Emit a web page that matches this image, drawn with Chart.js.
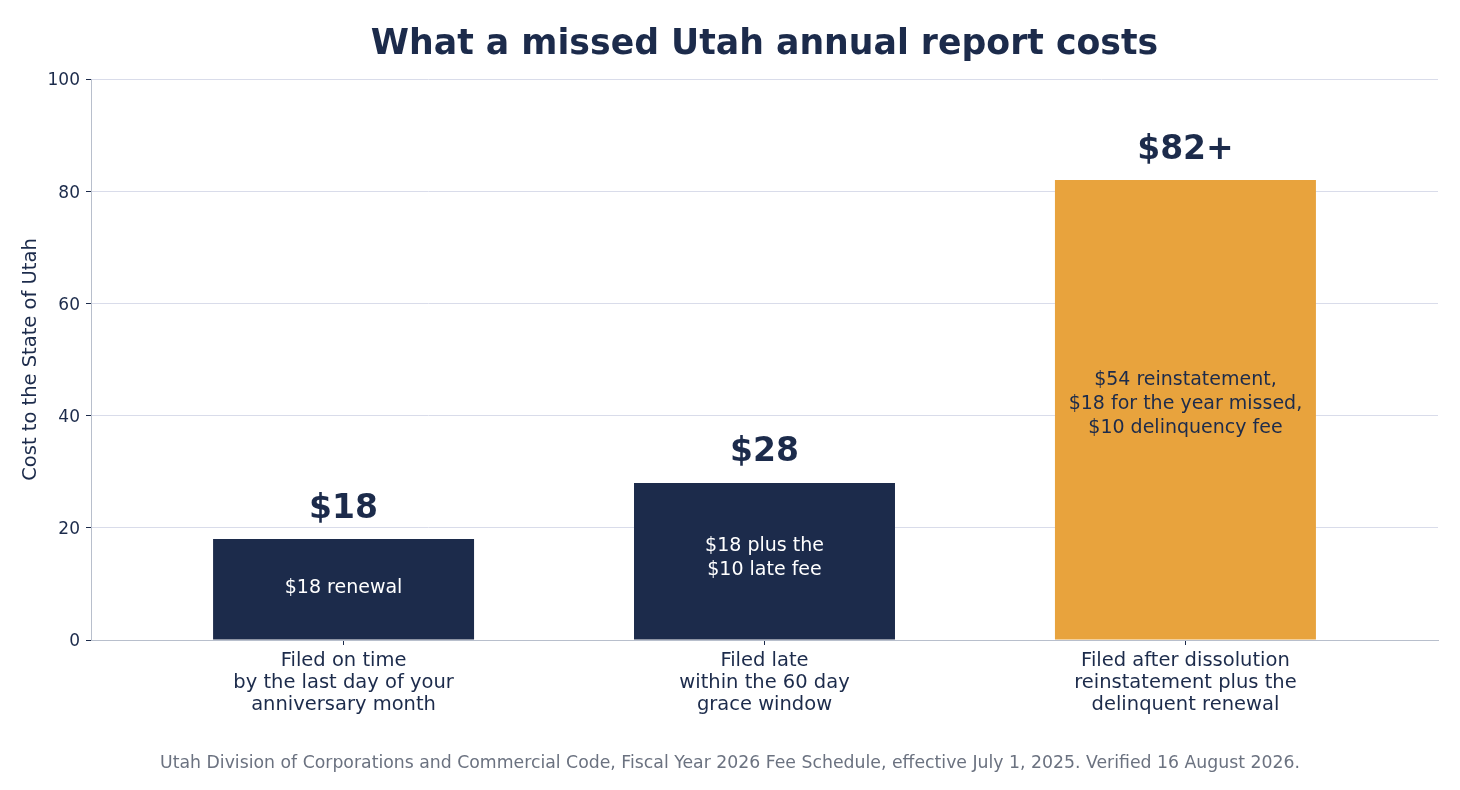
<!DOCTYPE html>
<html>
<head>
<meta charset="utf-8">
<script src="https://cdn.jsdelivr.net/npm/chart.js@4/dist/chart.umd.min.js"></script>
<style>
    html, body { margin: 0; padding: 0; background: #ffffff; }
    #wrap { width: 1460px; height: 790px; }
</style>
</head>
<body>
<div id="wrap"><canvas id="costChart" width="1460" height="790"></canvas></div>
<script>
// Chart data
const categories = [
    ['Filed on time', 'by the last day of your', 'anniversary month'],
    ['Filed late', 'within the 60 day', 'grace window'],
    ['Filed after dissolution', 'reinstatement plus the', 'delinquent renewal']
];
const costs = [18, 28, 82];
const valueLabels = ['$18', '$28', '$82+'];
const innerLabels = [
    ['$18 renewal'],
    ['$18 plus the', '$10 late fee'],
    ['$54 reinstatement,', '$18 for the year missed,', '$10 delinquency fee']
];
const yTicks = [0, 20, 40, 60, 80, 100];

const NAVY = '#1c2b4b';
const ORANGE = '#e8a33d';
const FONT = "'DejaVu Sans', sans-serif";

const barColors = costs.map((v, i) => i === 2 ? ORANGE : NAVY);
const innerColors = costs.map((v, i) => i === 2 ? NAVY : '#ffffff');

// draws title, value labels, labels inside bars and the source line
const annotate = {
    id: 'annotate',
    afterDatasetsDraw(chart) {
        const ctx = chart.ctx;
        const area = chart.chartArea;
        ctx.save();
        ctx.textAlign = 'center';
        ctx.textBaseline = 'middle';

        ctx.fillStyle = NAVY;
        ctx.font = "bold 34.7px " + FONT;
        ctx.fillText('What a missed Utah annual report costs', (area.left + area.right) / 2, 45);

        const bars = chart.getDatasetMeta(0).data;
        bars.forEach((bar, i) => {
            ctx.fillStyle = NAVY;
            ctx.font = "bold 33px " + FONT;
            ctx.fillText(valueLabels[i], bar.x, bar.y - 30);

            // text block sits a little above the middle of the bar
            const lines = innerLabels[i];
            const lh = 24;
            const mid = (bar.y + bar.base) / 2 - 1 - (lines.length - 1) * 2.5;
            ctx.fillStyle = innerColors[i];
            ctx.font = "19px " + FONT;
            lines.forEach((line, k) => {
                ctx.fillText(line, bar.x, mid + (k - (lines.length - 1) / 2) * lh);
            });
        });

        ctx.fillStyle = '#6b7280';
        ctx.font = "17.3px " + FONT;
        ctx.fillText('Utah Division of Corporations and Commercial Code, Fiscal Year 2026 Fee Schedule, effective July 1, 2025. Verified 16 August 2026.', 730, 764);
        ctx.restore();
    }
};

new Chart(document.getElementById('costChart'), {
    type: 'bar',
    data: {
        datasets: [{
            data: costs.map((v, i) => ({ x: i, y: v })),
            backgroundColor: barColors,
            borderWidth: 0,
            barPercentage: 0.62,
            categoryPercentage: 1
        }]
    },
    options: {
        responsive: false,
        animation: false,
        devicePixelRatio: 1,
        layout: { padding: { top: 79, right: 22, bottom: 0, left: 0 } },
        plugins: {
            legend: { display: false },
            tooltip: { enabled: false }
        },
        scales: {
            x: {
                type: 'linear',
                min: -0.6,
                max: 2.6,
                offset: false,
                afterBuildTicks: axis => { axis.ticks = categories.map((c, i) => ({ value: i })); },
                afterFit: scale => { scale.height = 150; },
                grid: { offset: false, drawOnChartArea: false, tickLength: 5, tickColor: NAVY },
                border: { color: '#b8bfcc', width: 1 },
                ticks: {
                    color: NAVY,
                    padding: 5,
                    maxRotation: 0,
                    autoSkip: false,
                    font: { family: FONT, size: 19.5, lineHeight: 1.13 },
                    callback: v => categories[v]
                }
            },
            y: {
                min: 0,
                max: 100,
                afterBuildTicks: axis => { axis.ticks = yTicks.map(v => ({ value: v })); },
                afterFit: scale => { scale.width = 91; },
                grid: { color: '#d9dcea', tickLength: 5, tickColor: NAVY },
                border: { color: '#b8bfcc', width: 1 },
                ticks: {
                    color: NAVY,
                    padding: 6,
                    labelOffset: 2,
                    font: { family: FONT, size: 17 }
                },
                title: {
                    display: true,
                    text: 'Cost to the State of Utah',
                    color: NAVY,
                    padding: { top: 19, bottom: 0 },
                    font: { family: FONT, size: 19.5 }
                }
            }
        }
    },
    plugins: [annotate]
});
</script>
</body>
</html>
